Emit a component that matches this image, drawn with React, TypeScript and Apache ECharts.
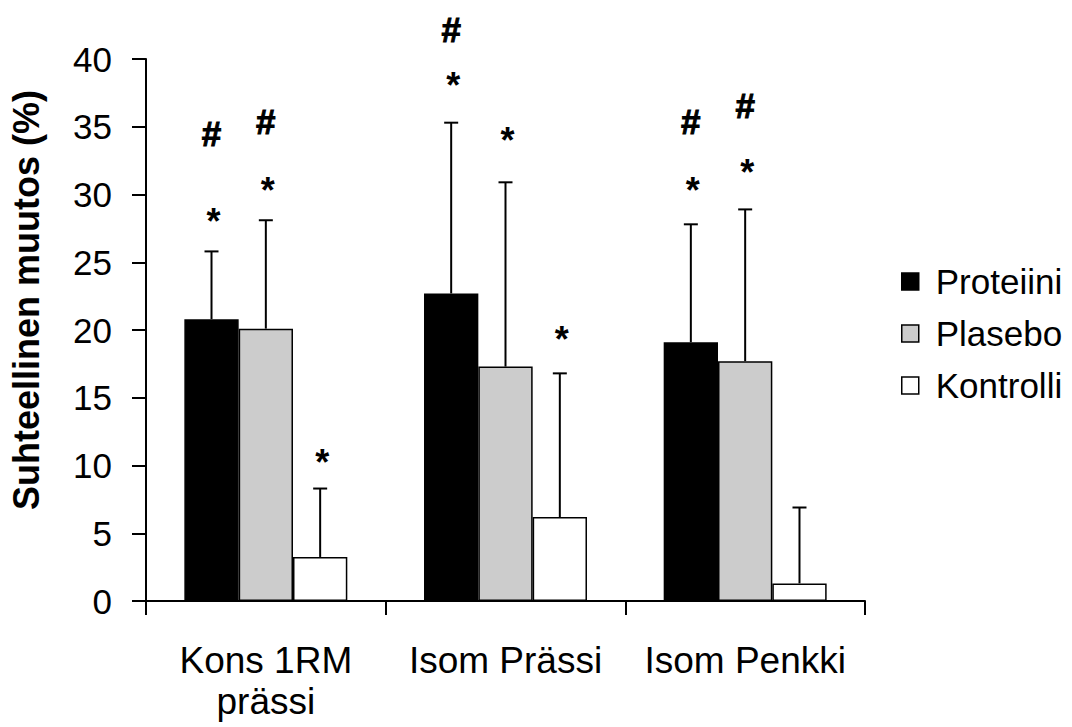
import React, { useEffect, useRef } from "react";
import * as echarts from "echarts";

const categories = ["Kons 1RM\nprässi", "Isom Prässi", "Isom Penkki"];
const seriesNames = ["Proteiini", "Plasebo", "Kontrolli"];
const proteiini = [20.8, 22.7, 19.1];
const plasebo = [20.1, 17.3, 17.7];
const kontrolli = [3.25, 6.2, 1.3];
const sdProteiini = [5.0, 12.6, 8.7];
const sdPlasebo = [8.0, 13.6, 11.2];
const sdKontrolli = [5.05, 10.6, 5.6];
// annotation levels (value axis units)
const starProteiini = [28.6, 38.6, 30.9];
const starPlasebo = [30.9, 34.6, 32.2];
const starKontrolli: (number | null)[] = [10.8, 19.9, null];
const hashProteiini: (number | null)[] = [34.5, 42.2, 35.4];
const hashPlasebo: (number | null)[] = [35.4, null, 36.6];
const hashKontrolli: (number | null)[] = [null, null, null];
const yTicks = { min: 0, max: 40, interval: 5 };

const FONT = "'Liberation Sans', Arial, Helvetica, sans-serif";
const colors = ["#000000", "#cccccc", "#ffffff"];
const CAT_GAP = 0.32;

export default function App() {
  const ref = useRef<HTMLDivElement>(null);
  useEffect(() => {
    if (!ref.current) return;
    const chart = echarts.init(ref.current, null, { renderer: "svg" });
    const values = [proteiini, plasebo, kontrolli];
    const sds = [sdProteiini, sdPlasebo, sdKontrolli];
    const stars = [starProteiini, starPlasebo, starKontrolli];
    const hashes = [hashProteiini, hashPlasebo, hashKontrolli];

    const barSeries = seriesNames.map((name, k) => ({
      name,
      type: "bar",
      data: values[k],
      barGap: "0%",
      barCategoryGap: CAT_GAP * 100 + "%",
      itemStyle: { color: colors[k], borderColor: "#000", borderWidth: 1.5 },
      z: 2,
    }));

    const errSeries = seriesNames.map((name, k) => ({
      name: name + " err",
      type: "custom",
      z: 3,
      clip: false,
      data: values[k].map((v, i) => [i, v + sds[k][i]]),
      renderItem: (params: any, api: any) => {
        const i = params.dataIndex;
        const v = values[k][i];
        const e = sds[k][i];
        const band = api.size([1, 0])[0];
        const bw = (band * (1 - CAT_GAP)) / 3;
        const base = api.coord([i, v]);
        const top = api.coord([i, v + e]);
        const x = base[0] + (k - 1) * bw;
        const children: any[] = [
          { type: "line", shape: { x1: x, y1: base[1], x2: x, y2: top[1] }, style: { stroke: "#000", lineWidth: 2 } },
          { type: "line", shape: { x1: x - 7, y1: top[1], x2: x + 7, y2: top[1] }, style: { stroke: "#000", lineWidth: 2 } },
        ];
        const s = stars[k][i];
        if (s != null) {
          const p = api.coord([i, s]);
          children.push({
            type: "text",
            x: x + 2,
            y: p[1] + 8,
            style: { text: "*", fontSize: 36, fontWeight: "bold", fill: "#000", align: "center", verticalAlign: "middle", fontFamily: FONT },
          });
        }
        const h = hashes[k][i];
        if (h != null) {
          const p = api.coord([i, h]);
          children.push({
            type: "text",
            x: x,
            y: p[1],
            style: {
              text: "#",
              fontSize: 35,
              fontWeight: "bold",
              fill: "#000",
              stroke: "#000",
              lineWidth: 1,
              align: "center",
              verticalAlign: "middle",
              fontFamily: FONT,
            },
          });
        }
        return { type: "group", children };
      },
    }));

    chart.setOption({
      animation: false,
      backgroundColor: "#ffffff",
      textStyle: { fontFamily: FONT, color: "#000" },
      grid: { left: 146, right: 207, top: 59, bottom: 126 },
      legend: {
        data: seriesNames,
        orient: "vertical",
        left: 896,
        top: 259,
        itemWidth: 17,
        itemHeight: 17,
        itemGap: 17,
        icon: "rect",
        itemStyle: { borderColor: "#000", borderWidth: 1.5 },
        textStyle: { fontSize: 35, color: "#000", fontFamily: FONT, padding: [0, 0, 0, 12] },
      },
      xAxis: {
        type: "category",
        data: categories,
        axisLine: { lineStyle: { color: "#000", width: 2 } },
        axisTick: { show: true, length: 14, lineStyle: { color: "#000", width: 2 } },
        axisLabel: { fontSize: 37, color: "#000", fontFamily: FONT, lineHeight: 41, margin: 39, interval: 0 },
      },
      yAxis: {
        type: "value",
        min: yTicks.min,
        max: yTicks.max,
        interval: yTicks.interval,
        splitLine: { show: false },
        axisLine: { show: true, lineStyle: { color: "#000", width: 2 } },
        axisTick: { show: true, length: 14, lineStyle: { color: "#000", width: 2 } },
        axisLabel: { fontSize: 35, color: "#000", fontFamily: FONT, margin: 34 },
      },
      graphic: [
        {
          type: "text",
          x: 26,
          y: 300,
          rotation: Math.PI / 2,
          style: {
            text: "Suhteellinen muutos (%)",
            fontSize: 36,
            fontWeight: "bold",
            fill: "#000",
            fontFamily: FONT,
            align: "center",
            verticalAlign: "middle",
          },
        },
      ],
      series: [...barSeries, ...errSeries],
    });
    return () => chart.dispose();
  }, []);
  return <div ref={ref} style={{ position: "absolute", left: 0, top: 0, width: 1072, height: 727 }} />;
}
